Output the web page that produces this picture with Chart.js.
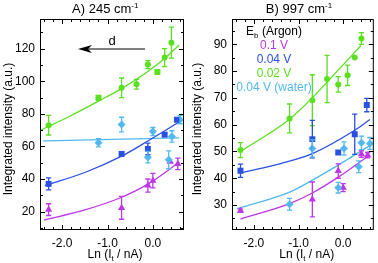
<!DOCTYPE html>
<html><head><meta charset="utf-8">
<script src="https://cdn.jsdelivr.net/npm/chart.js@4.4.1/dist/chart.umd.min.js"></script>
<style>
html,body{margin:0;padding:0;background:#fff;}
#wrap{position:relative;width:378px;height:263px;overflow:hidden;background:#fff;}
canvas{position:absolute;top:0;}
</style></head><body>
<div id="wrap">
<canvas id="cA" width="189" height="263" style="left:0px"></canvas>
<canvas id="cB" width="189" height="263" style="left:189px"></canvas>
</div>
<script>
// ---------- data ----------
const X_TICK_VALUES = [-2, -1, 0];
const A_Y_TICKS = [20, 40, 60, 80, 100, 120];
const B_Y_TICKS = [30, 40, 50, 60, 70, 80, 90];

const TITLE_A = 'A) 245 cm';
const TITLE_B = 'B) 997 cm';
const TITLE_SUP = '-1';
const Y_TITLE = 'Integrated intensity (a.u.)';
const X_TITLE_PARTS = ['Ln (I', 't', ' / nA)'];
const ARROW_LABEL = 'd';
const LEGEND_HEAD = ['E', 'b', ' (Argon)'];
const LEGEND_LABELS = ['0.1 V', '0.04 V', '0.02 V', '0.04 V (water)'];

// Panel A: 245 cm-1
const A_GREEN_CIRC_X = [-2.30, -0.69, -0.36, -0.11, 0.26, 0.41];
const A_GREEN_CIRC_Y = [73.0, 96.0, 98.2, 110.2, 114.5, 123.7];
const A_GREEN_CIRC_ERR = [6.0, 6.0, 3.0, 2.5, 5.5, 9.5];
const A_GREEN_SQ_X = [-1.20, 0.10];
const A_GREEN_SQ_Y = [89.8, 105.7];
const A_GREEN_SQ_ERR = [1.5, 1.2];
const A_GREEN_FIT_X = [-2.47, -1.80, -1.20, -0.69, -0.11, 0.26, 0.58];
const A_GREEN_FIT_Y = [70.0, 79.0, 87.8, 95.5, 106.0, 114.0, 122.3];

const A_BLUE_X = [-2.30, -0.69, -0.11, 0.26, 0.53];
const A_BLUE_Y = [37.0, 55.4, 58.5, 67.2, 76.4];
const A_BLUE_ERR = [3.7, 1.2, 3.5, 1.0, 1.2];
const A_BLUE_FIT_X = [-2.38, -1.50, -0.69, -0.10, 0.58];
const A_BLUE_FIT_Y = [36.0, 44.0, 54.0, 63.5, 75.0];

const A_CYAN_X = [-1.20, -0.69, -0.11, 0.00, 0.35, 0.42, 0.60];
const A_CYAN_Y = [62.2, 73.4, 53.4, 69.1, 51.8, 66.1, 76.4];
const A_CYAN_ERR = [2.5, 4.5, 3.5, 2.5, 5.5, 3.5, 2.5];
const A_CYAN_FIT_X = [-2.42, 0.58];
const A_CYAN_FIT_Y = [63.4, 65.2];

const A_MAG_X = [-2.30, -0.69, -0.11, 0.00, 0.38, 0.55];
const A_MAG_Y = [21.2, 22.3, 36.0, 39.0, 50.7, 49.3];
const A_MAG_ERR = [3.6, 7.0, 4.0, 4.5, 0, 3.5];
const A_MAG_FIT_X = [-2.40, -1.50, -0.69, -0.10, 0.58];
const A_MAG_FIT_Y = [14.8, 21.0, 28.8, 37.0, 50.3];

// Panel B: 997 cm-1
const B_GREEN_X = [-2.30, -1.20, -0.69, -0.36, -0.11, 0.10, 0.26, 0.41];
const B_GREEN_Y = [50.5, 62.3, 69.1, 77.0, 75.0, 78.4, 85.0, 92.1];
const B_GREEN_ERR = [2.8, 5.4, 9.5, 8.8, 2.9, 3.8, 0, 2.2];
const B_GREEN_FIT_X = [-2.30, -1.20, -0.69, -0.10, 0.40];
const B_GREEN_FIT_Y = [50.0, 62.0, 70.0, 80.5, 89.5];

const B_BLUE_X = [-2.30, -0.69, -0.11, 0.26, 0.53];
const B_BLUE_Y = [42.8, 54.6, 49.6, 56.4, 67.3];
const B_BLUE_ERR = [2.5, 7.0, 0, 7.5, 2.5];
const B_BLUE_FIT_X = [-2.30, -1.40, -0.69, 0.26, 0.60];
const B_BLUE_FIT_Y = [42.0, 45.5, 49.2, 57.9, 61.9];

const B_CYAN_X = [-1.20, -0.69, -0.11, 0.02, 0.35, 0.41, 0.60];
const B_CYAN_Y = [30.3, 51.1, 36.5, 51.1, 44.3, 53.2, 53.0];
const B_CYAN_ERR = [2.2, 3.2, 2.0, 2.5, 2.2, 2.5, 2.2];
const B_CYAN_FIT_X = [-2.38, -1.20, -0.69, -0.10, 0.58];
const B_CYAN_FIT_Y = [28.6, 34.8, 39.3, 45.0, 52.0];

const B_MAG_X = [-2.30, -0.69, -0.11, 0.00, 0.41, 0.55];
const B_MAG_Y = [27.9, 32.1, 42.7, 36.5, 49.0, 48.6];
const B_MAG_ERR = [0.6, 6.5, 2.7, 1.5, 1.2, 1.0];
const B_MAG_FIT_X = [-2.30, -1.20, -0.69, -0.10, 0.58];
const B_MAG_FIT_Y = [24.8, 30.5, 34.5, 40.5, 48.5];

// ---------- styling ----------
const FONT_FAMILY = "'Liberation Sans', Arial, Helvetica, sans-serif";
const C_GREEN = '#5ae01e';
const C_BLUE = '#2a4fe4';
const C_MAG = '#bf36e8';
const C_CYAN = '#52b8f0';
const X_MIN = -2.49, X_MAX = 0.687;

function pts(xs, ys){ return xs.map((x,i)=>({x:x, y:ys[i]})); }
function scatterSet(xs, ys, errs, color, style, radius){
  return {type:'scatter', data:pts(xs,ys), errs:errs, pointStyle:style, pointRadius:radius,
    pointBackgroundColor:color, pointBorderColor:color, pointBorderWidth:0,
    backgroundColor:color, borderColor:color, showLine:false, order:1};
}
function fitSet(xs, ys, color){
  return {type:'line', data:pts(xs,ys), borderColor:color, backgroundColor:color, borderWidth:1.3,
    pointRadius:0, fill:false, cubicInterpolationMode:'monotone', showLine:true, order:2};
}

const errorBarPlugin = {
  id:'errorBars',
  afterDatasetsDraw(chart){
    const ctx = chart.ctx, xs = chart.scales.x, ys = chart.scales.y;
    chart.data.datasets.forEach(ds=>{
      if(!ds.errs) return;
      ctx.save(); ctx.strokeStyle = ds.borderColor; ctx.lineWidth = 1.3;
      ds.data.forEach((p,i)=>{
        const e = ds.errs[i]; if(!e) return;
        const px = xs.getPixelForValue(p.x);
        const y1 = ys.getPixelForValue(p.y + e), y2 = ys.getPixelForValue(p.y - e);
        ctx.beginPath();
        ctx.moveTo(px, y1); ctx.lineTo(px, y2);
        ctx.moveTo(px-2.6, y1); ctx.lineTo(px+2.6, y1);
        ctx.moveTo(px-2.6, y2); ctx.lineTo(px+2.6, y2);
        ctx.stroke();
      });
      ctx.restore();
    });
  }
};

function framePlugin(p){
  return {
    id:'frame',
    afterDraw(chart){
      const ctx = chart.ctx, a = chart.chartArea, xs = chart.scales.x, ys = chart.scales.y;
      ctx.save(); ctx.strokeStyle = '#000'; ctx.lineWidth = 1;
      ctx.strokeRect(a.left+0.5, a.top+0.5, a.right-a.left-1, a.bottom-a.top-1);
      ctx.beginPath();
      for(let k=Math.ceil(X_MIN/0.2); k*0.2<=X_MAX+1e-9; k++){
        const v = k*0.2, major = (k % 5 === 0);
        const px = Math.round(xs.getPixelForValue(v)) + 0.5, L = major ? 5 : 3;
        ctx.moveTo(px, a.bottom); ctx.lineTo(px, a.bottom - L);
        ctx.moveTo(px, a.top); ctx.lineTo(px, a.top + L);
      }
      const ymin = ys.min, ymax = ys.max;
      for(let k=Math.ceil(ymin/p.yMinor); k*p.yMinor<=ymax; k++){
        const v = k*p.yMinor, major = (v % p.yMajor === 0);
        const py = Math.round(ys.getPixelForValue(v)) + 0.5, L = major ? 5 : 3;
        ctx.moveTo(a.left, py); ctx.lineTo(a.left + L, py);
        ctx.moveTo(a.right, py); ctx.lineTo(a.right - L, py);
      }
      ctx.stroke();
      ctx.restore();
    }
  };
}

function textPlugin(items, arrow){
  return {
    id:'richText',
    afterDraw(chart){
      const ctx = chart.ctx;
      items.forEach(it=>{
        ctx.save();
        ctx.fillStyle = it.color || '#000';
        ctx.textBaseline = 'alphabetic';
        const widths = it.parts.map(q=>{ ctx.font = q.size + 'px ' + FONT_FAMILY; return ctx.measureText(q.t).width; });
        const w = widths.reduce((s,v)=>s+v, 0);
        ctx.translate(it.x, it.y);
        if(it.rotate) ctx.rotate(it.rotate);
        let cx = -w/2;
        it.parts.forEach((q,i)=>{ ctx.font = q.size + 'px ' + FONT_FAMILY; ctx.fillText(q.t, cx, q.dy || 0); cx += widths[i]; });
        ctx.restore();
      });
      if(arrow){
        ctx.save(); ctx.strokeStyle = '#000'; ctx.fillStyle = '#000'; ctx.lineWidth = 1.2;
        ctx.beginPath(); ctx.moveTo(arrow.x1, arrow.y); ctx.lineTo(arrow.x2 + 8, arrow.y); ctx.stroke();
        ctx.beginPath();
        ctx.moveTo(arrow.x2, arrow.y);
        ctx.lineTo(arrow.x2 + 14, arrow.y - 4);
        ctx.lineTo(arrow.x2 + 10, arrow.y);
        ctx.lineTo(arrow.x2 + 14, arrow.y + 4);
        ctx.closePath(); ctx.fill();
        ctx.restore();
      }
    }
  };
}

function buildChart(id, p){
  return new Chart(document.getElementById(id), {
    type:'scatter',
    data:{datasets:p.datasets},
    options:{
      responsive:false, animation:false, devicePixelRatio:1, events:[],
      layout:{padding:{left:0, right:p.padRight, top:19, bottom:0}},
      plugins:{legend:{display:false}, title:{display:false}, tooltip:{enabled:false}},
      scales:{
        x:{type:'linear', position:'bottom', min:X_MIN, max:X_MAX,
          grid:{display:false, drawTicks:false}, border:{display:false},
          afterBuildTicks:s=>{ s.ticks = X_TICK_VALUES.map(v=>({value:v})); },
          afterFit:s=>{ s.height = 33; },
          ticks:{padding:6, color:'#000', font:{family:FONT_FAMILY, size:12}, maxRotation:0, autoSkip:false,
            callback:v=>Number(v).toFixed(1)}},
        y:{type:'linear', position:'left', min:p.yMin, max:p.yMax,
          grid:{display:false, drawTicks:false}, border:{display:false},
          afterBuildTicks:s=>{ s.ticks = p.yTicks.map(v=>({value:v})); },
          afterFit:s=>{ s.width = p.yAxisWidth; },
          ticks:{padding:5, color:'#000', font:{family:FONT_FAMILY, size:12}, autoSkip:false,
            callback:v=>String(v)}}
      }
    },
    plugins:[errorBarPlugin, framePlugin(p), textPlugin(p.texts, p.arrow)]
  });
}

const xTitle = (x)=>({x:x, y:258, parts:[{t:X_TITLE_PARTS[0],size:12},{t:X_TITLE_PARTS[1],size:8,dy:3},{t:X_TITLE_PARTS[2],size:12}]});
const yTitle = {x:11.5, y:129, rotate:-Math.PI/2, parts:[{t:Y_TITLE, size:12}]};

buildChart('cA', {
  yMin:8.7, yMax:138.2, yTicks:A_Y_TICKS, yMinor:10, yMajor:20, yAxisWidth:40, padRight:5,
  datasets:[
    fitSet(A_GREEN_FIT_X, A_GREEN_FIT_Y, C_GREEN),
    fitSet(A_BLUE_FIT_X, A_BLUE_FIT_Y, C_BLUE),
    fitSet(A_CYAN_FIT_X, A_CYAN_FIT_Y, C_CYAN),
    fitSet(A_MAG_FIT_X, A_MAG_FIT_Y, C_MAG),
    scatterSet(A_GREEN_CIRC_X, A_GREEN_CIRC_Y, A_GREEN_CIRC_ERR, C_GREEN, 'circle', 3),
    scatterSet(A_GREEN_SQ_X, A_GREEN_SQ_Y, A_GREEN_SQ_ERR, C_GREEN, 'rect', 4.2),
    scatterSet(A_BLUE_X, A_BLUE_Y, A_BLUE_ERR, C_BLUE, 'rect', 4.2),
    scatterSet(A_CYAN_X, A_CYAN_Y, A_CYAN_ERR, C_CYAN, 'rectRot', 4),
    scatterSet(A_MAG_X, A_MAG_Y, A_MAG_ERR, C_MAG, 'triangle', 4.2)
  ],
  texts:[
    {x:105.3, y:13, parts:[{t:TITLE_A,size:13},{t:TITLE_SUP,size:8,dy:-5}]},
    yTitle, xTitle(115),
    {x:112, y:44.5, parts:[{t:ARROW_LABEL,size:13}]}
  ],
  arrow:{x1:145, x2:78, y:49}
});

buildChart('cB', {
  yMin:20.7, yMax:99.4, yTicks:B_Y_TICKS, yMinor:5, yMajor:10, yAxisWidth:43, padRight:2,
  datasets:[
    fitSet(B_GREEN_FIT_X, B_GREEN_FIT_Y, C_GREEN),
    fitSet(B_BLUE_FIT_X, B_BLUE_FIT_Y, C_BLUE),
    fitSet(B_CYAN_FIT_X, B_CYAN_FIT_Y, C_CYAN),
    fitSet(B_MAG_FIT_X, B_MAG_FIT_Y, C_MAG),
    scatterSet(B_GREEN_X, B_GREEN_Y, B_GREEN_ERR, C_GREEN, 'circle', 3),
    scatterSet(B_BLUE_X, B_BLUE_Y, B_BLUE_ERR, C_BLUE, 'rect', 4.2),
    scatterSet(B_CYAN_X, B_CYAN_Y, B_CYAN_ERR, C_CYAN, 'rectRot', 4),
    scatterSet(B_MAG_X, B_MAG_Y, B_MAG_ERR, C_MAG, 'triangle', 4.2)
  ],
  texts:[
    {x:110, y:13, parts:[{t:TITLE_B,size:13},{t:TITLE_SUP,size:8,dy:-5}]},
    yTitle, xTitle(117.7),
    {x:85, y:35, parts:[{t:LEGEND_HEAD[0],size:12},{t:LEGEND_HEAD[1],size:8,dy:3},{t:LEGEND_HEAD[2],size:12}]},
    {x:85, y:49, color:C_MAG, parts:[{t:LEGEND_LABELS[0],size:12}]},
    {x:85, y:63, color:C_BLUE, parts:[{t:LEGEND_LABELS[1],size:12}]},
    {x:85, y:77, color:C_GREEN, parts:[{t:LEGEND_LABELS[2],size:12}]},
    {x:85, y:91, color:C_CYAN, parts:[{t:LEGEND_LABELS[3],size:12}]}
  ]
});
</script>
</body></html>
